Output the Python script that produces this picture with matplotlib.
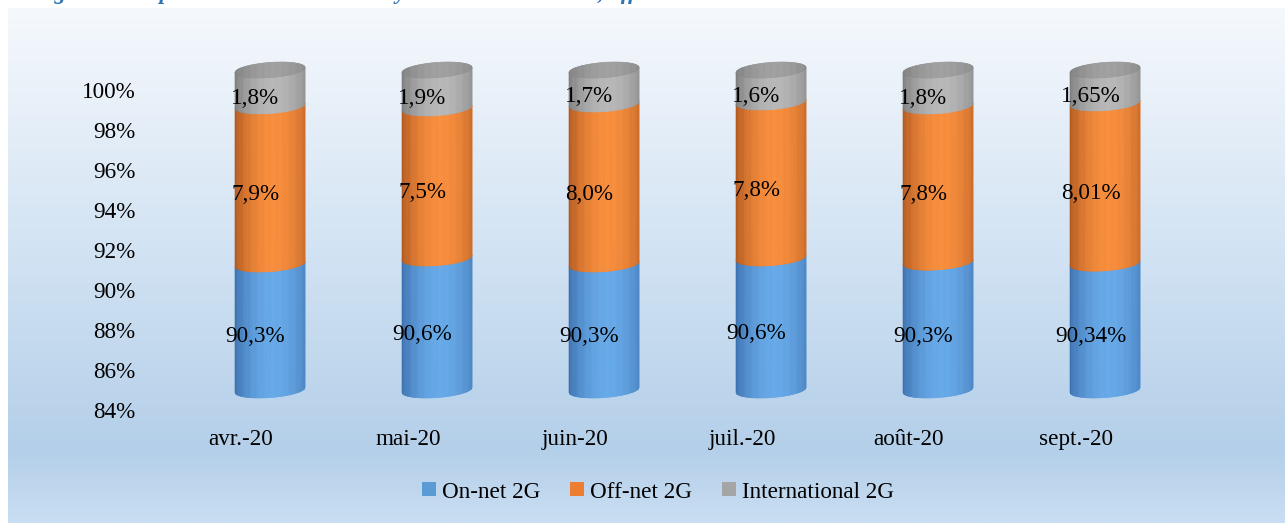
import numpy as np
import matplotlib
matplotlib.use("Agg")
import matplotlib.pyplot as plt
from matplotlib.collections import PolyCollection
from matplotlib.patches import Patch
from matplotlib.colors import to_rgb

# ---------------- data ----------------
months = ["avr.-20", "mai-20", "juin-20", "juil.-20", "août-20", "sept.-20"]
on_net = [90.3, 90.6, 90.3, 90.6, 90.3, 90.34]
off_net = [7.9, 7.5, 8.0, 7.8, 7.8, 8.01]
international = [1.8, 1.9, 1.7, 1.6, 1.8, 1.65]
label_decimals = [1, 1, 1, 1, 1, 2]
series_names = ["On-net 2G", "Off-net 2G", "International 2G"]
y_ticks = [84, 86, 88, 90, 92, 94, 96, 98, 100]
title_text = ("Figure 6 : Répartition des volumes moyens mensuels on-net, "
              "off-net et international")

# ---------------- style ----------------
plt.rcParams['font.family'] = ['Liberation Serif', 'DejaVu Serif']
W, H = 1285, 523
FS = 16.7
side_colors = [  # (edge/dark, centre/light)
    ("#3a6fae", "#65a8e8"),
    ("#b0561c", "#f98c38"),
    ("#7c7c7c", "#b6b6b6"),
]
cap_colors = ("#7e7e7e", "#9e9e9e")
legend_colors = ["#5b9bd5", "#ed7d31", "#a5a5a5"]

depth_x = 0.174   # 3-D depth offset (category units)
depth_y = 1.0     # 3-D depth offset (percent units)
bar_w = 0.42
ell_h = 0.38      # ellipse half-height (percent units)
skew = 0.6        # tilt of the ellipses
n_strips = 60

fig = plt.figure(figsize=(W / 100, H / 100), dpi=100)

# background panel with vertical gradient
bg = fig.add_axes([8 / W, 0, 1 - 8 / W, 1 - 8 / H])
stops = [(0.0, "#f5f9fd"), (0.12, "#edf3fa"), (0.47, "#d2e3f3"),
         (0.86, "#b4cfe9"), (1.0, "#c9def2")]
rows = np.linspace(0, 1, 400)
grad = np.zeros((400, 1, 3))
for c in range(3):
    grad[:, 0, c] = np.interp(rows, [s[0] for s in stops],
                              [to_rgb(s[1])[c] for s in stops])
bg.imshow(grad, aspect='auto', extent=[0, 1, 0, 1], origin='upper')
bg.set_axis_off()

# title (only descenders visible, cut by top edge)
fig.text(33 / W, 1.0 + 1 / H, title_text, fontsize=16.5, fontweight='bold',
         fontstyle='italic', color="#2e74b5", ha='left', va='baseline')

# main axes
ax_left, ax_right = 157.5 / W, 1159.5 / W
ax_bottom, ax_top = (H - 410) / H, (H - 90) / H
ax = fig.add_axes([ax_left, ax_bottom, ax_right - ax_left, ax_top - ax_bottom])
ax.patch.set_alpha(0)
for s in ax.spines.values():
    s.set_visible(False)
ax.set_xlim(-0.5, len(months) - 0.5)
ax.set_ylim(y_ticks[0], y_ticks[-1])
ax.set_yticks(y_ticks)
ax.set_yticklabels([f"{v}%" for v in y_ticks], fontsize=FS)
ax.set_xticks(range(len(months)))
ax.set_xticklabels(months, fontsize=FS)
ax.tick_params(axis='y', length=0, pad=16)
ax.tick_params(axis='x', length=0, pad=14)


def lower_arc(xs, xc, yb):
    u = np.clip((xs - xc) / (bar_w / 2), -1, 1)
    return yb - ell_h * np.sqrt(1 - u ** 2) + skew * (xs - xc)


def upper_arc(xs, xc, yb):
    u = np.clip((xs - xc) / (bar_w / 2), -1, 1)
    return yb + ell_h * np.sqrt(1 - u ** 2) + skew * (xs - xc)


def shade(t, dark, light):
    g = np.cos(np.clip((t - 0.12) / 1.12, -1, 1) * np.pi / 2) ** 0.8
    d, l = np.array(to_rgb(dark)), np.array(to_rgb(light))
    return d + (l - d) * g


series = [on_net, off_net, international]
base = y_ticks[0]
for i in range(len(months)):
    vals = np.array([s[i] for s in series], dtype=float)
    vals = vals / vals.sum() * 100.0
    xc = i + depth_x
    edges = np.linspace(xc - bar_w / 2, xc + bar_w / 2, n_strips + 1)
    y0 = 0.0
    for k, v in enumerate(vals):
        lo = max(y0, base)
        y1 = y0 + v
        polys, cols = [], []
        for j in range(n_strips):
            xs = np.linspace(edges[j], edges[j + 1], 4)
            bot = lower_arc(xs, xc, lo + depth_y)
            top = lower_arc(xs[::-1], xc, y1 + depth_y)
            polys.append(np.column_stack([np.r_[xs, xs[::-1]], np.r_[bot, top]]))
            t = ((edges[j] + edges[j + 1]) / 2 - xc) / (bar_w / 2)
            cols.append(shade(t, *side_colors[k]))
        pc = PolyCollection(polys, facecolors=cols, edgecolors=cols,
                            linewidths=0.4, clip_on=False, zorder=3)
        ax.add_collection(pc)
        # data label
        mid = (lo + y1) / 2
        txt = f"{series[k][i]:.{label_decimals[i]}f}%".replace(".", ",")
        ax.text(i + depth_x / 2, mid + depth_y / 2, txt, fontsize=FS,
                ha='center', va='center', color='black', zorder=5,
                clip_on=False)
        y0 = y1
    # top cap
    polys, cols = [], []
    for j in range(n_strips):
        xs = np.linspace(edges[j], edges[j + 1], 4)
        bot = lower_arc(xs, xc, y0 + depth_y)
        top = upper_arc(xs[::-1], xc, y0 + depth_y)
        polys.append(np.column_stack([np.r_[xs, xs[::-1]], np.r_[bot, top]]))
        t = ((edges[j] + edges[j + 1]) / 2 - xc) / (bar_w / 2)
        cols.append(shade(t, *cap_colors))
    ax.add_collection(PolyCollection(polys, facecolors=cols, edgecolors=cols,
                                     linewidths=0.4, clip_on=False, zorder=4))

handles = [Patch(facecolor=c, edgecolor='none') for c in legend_colors]
fig.legend(handles, series_names, loc='center',
           bbox_to_anchor=(658 / W, (H - 492) / H), ncol=3, frameon=False,
           fontsize=FS, handlelength=0.6, handleheight=0.55,
           handletextpad=0.25, columnspacing=1.3)

fig.savefig("out.png", dpi=100)
